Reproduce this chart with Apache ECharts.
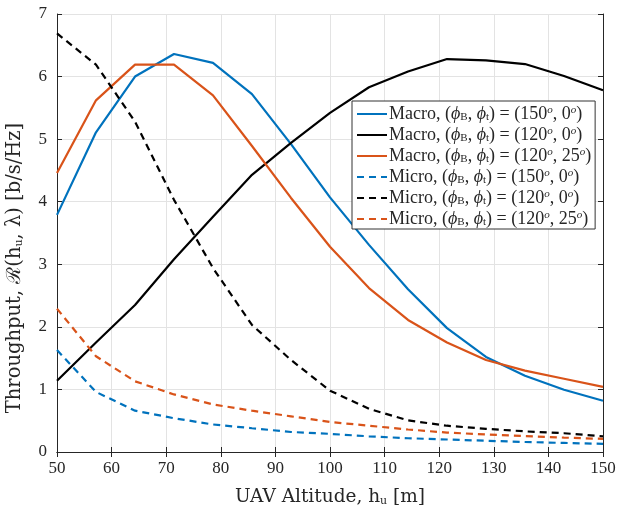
<!DOCTYPE html>
<html>
<head>
<meta charset="utf-8">
<script src="https://cdn.jsdelivr.net/npm/echarts@6/dist/echarts.min.js"></script>
<style>
  html, body { margin: 0; padding: 0; background: #fff; }
  #chart { width: 617px; height: 513px; }
</style>
</head>
<body>
<div id="chart"></div>
<script>
// altitude samples (m)
const altitude = [50, 57.14, 64.29, 71.43, 78.57, 85.71, 92.86, 100, 107.14, 114.29, 121.43, 128.57, 135.71, 142.86, 150]

// throughput values
const macro150_0 = [3.79, 5.11, 6.0, 6.36, 6.22, 5.72, 4.92, 4.07, 3.31, 2.6, 1.98, 1.52, 1.22, 0.995, 0.82]
const macro120_0 = [1.14, 1.75, 2.35, 3.08, 3.76, 4.43, 4.94, 5.42, 5.83, 6.08, 6.28, 6.26, 6.2, 6.01, 5.78]
const macro120_25 = [4.46, 5.62, 6.19, 6.19, 5.7, 4.89, 4.06, 3.28, 2.62, 2.11, 1.75, 1.47, 1.3, 1.17, 1.04]
const micro150_0 = [1.63, 0.96, 0.66, 0.54, 0.44, 0.38, 0.32, 0.29, 0.25, 0.22, 0.2, 0.18, 0.16, 0.145, 0.13]
const micro120_0 = [6.69, 6.19, 5.28, 4.03, 2.94, 2.03, 1.47, 0.98, 0.69, 0.505, 0.42, 0.37, 0.33, 0.3, 0.25]
const micro120_25 = [2.29, 1.53, 1.13, 0.92, 0.76, 0.66, 0.57, 0.48, 0.42, 0.36, 0.31, 0.28, 0.255, 0.23, 0.21]

const xTicks = [50, 60, 70, 80, 90, 100, 110, 120, 130, 140, 150]
const yTicks = [0, 1, 2, 3, 4, 5, 6, 7]

const seriesDefs = [
  { name: 'Macro 150 0', kind: 'Macro', ang: ['150', '0'], color: '#0072BD', dash: 'solid', data: macro150_0 },
  { name: 'Macro 120 0', kind: 'Macro', ang: ['120', '0'], color: '#000000', dash: 'solid', data: macro120_0 },
  { name: 'Macro 120 25', kind: 'Macro', ang: ['120', '25'], color: '#D95319', dash: 'solid', data: macro120_25 },
  { name: 'Micro 150 0', kind: 'Micro', ang: ['150', '0'], color: '#0072BD', dash: [7, 5], data: micro150_0 },
  { name: 'Micro 120 0', kind: 'Micro', ang: ['120', '0'], color: '#000000', dash: [7, 5], data: micro120_0 },
  { name: 'Micro 120 25', kind: 'Micro', ang: ['120', '25'], color: '#D95319', dash: [7, 5], data: micro120_25 }
]

const FONT = 'Liberation Serif'
const TITLE_FONT = 'DejaVu Serif'
const INK = '#262626'

const legendRich = {
  t: { fontFamily: FONT, fontSize: 18, color: INK },
  i: { fontFamily: FONT, fontSize: 18, fontStyle: 'italic', color: INK },
  s: { fontFamily: FONT, fontSize: 11, color: INK, verticalAlign: 'bottom', padding: [7, 0, 0, 0] },
  p: { fontFamily: FONT, fontSize: 11, fontStyle: 'italic', color: INK, verticalAlign: 'top', padding: [0, 0, 7, 0] }
}

function titleRich (size) {
  return {
    t: { fontFamily: TITLE_FONT, fontSize: size, color: INK },
    s: { fontFamily: TITLE_FONT, fontSize: 11, color: INK, verticalAlign: 'bottom', padding: [7, 0, 0, 0] }
  }
}

function legendLabel (d) {
  return '{t|' + d.kind + ', (}{i|ϕ}{s|B}{t|, }{i|ϕ}{s|t}{t|) = (' + d.ang[0] + '}{p|o}{t|, ' + d.ang[1] + '}{p|o}{t|)}'
}

const dom = echarts.init(document.getElementById('chart'))

const axisCommon = {
  type: 'value',
  axisLine: { show: true, lineStyle: { color: INK, width: 1 } },
  axisTick: { show: true, inside: true, length: 5, lineStyle: { color: INK } }
}

const option = {
  animation: false,
  backgroundColor: '#fff',
  grid: { left: 57, right: 14, top: 14, bottom: 61, containLabel: false, outerBoundsMode: 'none' },
  legend: {
    orient: 'vertical',
    left: 352,
    top: 101,
    padding: [4, 4, 1, 4],
    itemGap: 3,
    itemWidth: 30,
    itemHeight: 14,
    backgroundColor: '#fff',
    borderColor: '#333',
    borderWidth: 1,
    borderRadius: 0,
    selectedMode: false,
    itemStyle: { color: 'rgba(0,0,0,0)', borderWidth: 0 },
    data: seriesDefs.map(d => d.name),
    formatter: function (name) {
      const d = seriesDefs.find(s => s.name === name)
      return legendLabel(d)
    },
    textStyle: { rich: legendRich, padding: [0, 0, 0, -3] }
  },
  xAxis: [
    Object.assign({}, axisCommon, {
      min: 50,
      max: 150,
      interval: 10,
      position: 'bottom',
      name: '{t|UAV Altitude, h}{s|u}{t| [m]}',
      nameLocation: 'middle',
      nameGap: 36,
      nameTextStyle: { rich: titleRich(18.5) },
      axisLabel: {
        fontFamily: FONT,
        fontSize: 17,
        color: INK,
        margin: 8,
        formatter: v => (xTicks.indexOf(v) >= 0 ? String(v) : '')
      },
      splitLine: { show: true, lineStyle: { color: '#e3e3e3', width: 1 } }
    }),
    Object.assign({}, axisCommon, {
      min: 50,
      max: 150,
      interval: 10,
      position: 'top',
      axisLabel: { show: false },
      splitLine: { show: false }
    })
  ],
  yAxis: [
    Object.assign({}, axisCommon, {
      min: 0,
      max: 7,
      interval: 1,
      position: 'left',
      name: '{t|Throughput, ℛ(h}{s|u}{t|, λ) [b/s/Hz]}',
      nameLocation: 'middle',
      nameGap: 32,
      nameRotate: 90,
      nameTextStyle: { rich: titleRich(19.5), padding: [0, 70, 0, 0] },
      axisLabel: {
        fontFamily: FONT,
        fontSize: 17,
        color: INK,
        margin: 10,
        formatter: v => (yTicks.indexOf(v) >= 0 ? String(v) : '')
      },
      splitLine: { show: true, lineStyle: { color: '#e3e3e3', width: 1 } }
    }),
    Object.assign({}, axisCommon, {
      min: 0,
      max: 7,
      interval: 1,
      position: 'right',
      axisLabel: { show: false },
      splitLine: { show: false }
    })
  ],
  series: seriesDefs.map(d => ({
    name: d.name,
    type: 'line',
    xAxisIndex: 0,
    yAxisIndex: 0,
    showSymbol: false,
    symbol: 'none',
    color: d.color,
    lineStyle: { color: d.color, width: 2.2, type: d.dash },
    data: altitude.map((x, k) => [x, d.data[k]])
  }))
}

dom.setOption(option)
window.addEventListener('resize', () => dom.resize())
</script>
</body>
</html>
